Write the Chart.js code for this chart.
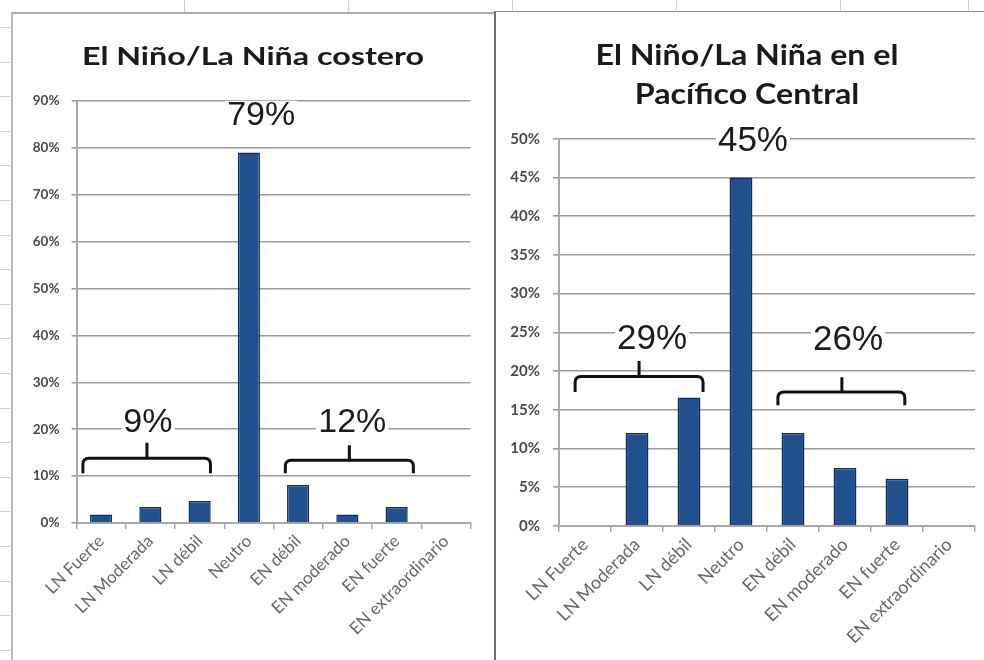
<!DOCTYPE html>
<html>
<head>
<meta charset="utf-8">
<title>El Niño / La Niña</title>
<script src="https://cdn.jsdelivr.net/npm/chart.js@4.4.0/dist/chart.umd.min.js"></script>
<style>
  body { margin: 0; width: 984px; height: 660px; background: #fff; position: relative; overflow: hidden; }
  .rule { position: absolute; background: #cfcfcf; }
  .card { position: absolute; background: #fff; }
  #cardLeft { left: 11px; top: 12px; width: 483px; height: 648px; border-top: 2px solid #ababab; border-left: 2px solid #b8b8b8; }
  #cardRight { left: 494px; top: 11px; width: 490px; height: 649px; border-top: 1px solid #8c8c8c; border-left: 2px solid #6e6e6e; }
  .card canvas { position: absolute; left: 0; top: 0; }
</style>
</head>
<body>
<div id="cardLeft" class="card"><canvas id="chartCostero" width="481" height="646"></canvas></div>
<div id="cardRight" class="card"><canvas id="chartCentral" width="488" height="648"></canvas></div>
<script>
const categories = ["LN Fuerte", "LN Moderada", "LN débil", "Neutro", "EN débil", "EN moderado", "EN fuerte", "EN extraordinario"];
const costeroValues = [1.8, 3.4, 4.7, 79, 8.1, 1.8, 3.4, 0];
const centralValues = [0, 12, 16.6, 45, 12, 7.5, 6.1, 0];
const costeroTicks = [0, 10, 20, 30, 40, 50, 60, 70, 80, 90];
const centralTicks = [0, 5, 10, 15, 20, 25, 30, 35, 40, 45, 50];

// group totals shown above the braces: [text, centre index, centre value]
const costeroNotes = [["79%", 3.25, 87], ["9%", 0.95, 21.6], ["12%", 5.1, 21.6]];
const centralNotes = [["45%", 3.23, 49.8], ["29%", 1.29, 24.2], ["26%", 5.06, 24.1]];
// braces: [from index, to index, tip index, line value, end value, tip value]
const costeroBraces = [[-0.37, 2.22, 0.93, 13.8, 10.6, 17.1], [3.74, 6.34, 5.04, 13.4, 10.6, 16.6]];
const centralBraces = [[-0.19, 2.27, 1.04, 19.3, 17.3, 21.3], [3.71, 6.15, 4.94, 17.3, 15.6, 19.2]];

// spreadsheet cells peeking out around the two charts
[184, 348, 512, 676, 840, 968].forEach(x => {
  const d = document.createElement("div");
  d.className = "rule";
  d.style.cssText = `left:${x}px;top:0;width:1px;height:12px;`;
  document.body.appendChild(d);
});
for (let y = 27; y < 660; y += 34.6) {
  const d = document.createElement("div");
  d.className = "rule";
  d.style.cssText = `left:0;top:${Math.round(y)}px;width:10px;height:1px;`;
  document.body.appendChild(d);
}

// heading drawn a little wide, like the pasted spreadsheet chart
const chartHeading = {
  id: "chartHeading",
  afterDraw(chart, args, opts) {
    const { ctx } = chart;
    ctx.save();
    ctx.font = `bold ${opts.size}px Lato, sans-serif`;
    ctx.fillStyle = "#1a1a1a";
    ctx.textAlign = "center";
    ctx.textBaseline = "alphabetic";
    opts.lines.forEach((line, i) => {
      ctx.save();
      ctx.translate(opts.x, opts.baseline + i * opts.gap);
      ctx.scale(opts.stretch, 1);
      ctx.fillText(line, 0, 0);
      ctx.restore();
    });
    ctx.restore();
  }
};

const braceNotes = {
  id: "braceNotes",
  afterDatasetsDraw(chart, args, opts) {
    const { ctx } = chart;
    const x = chart.scales.x, y = chart.scales.y;
    ctx.save();
    ctx.strokeStyle = "#111";
    ctx.lineWidth = 3;
    ctx.lineJoin = "round";
    opts.braces.forEach(([a, b, m, line, end, tip]) => {
      const x1 = x.getPixelForValue(a), x2 = x.getPixelForValue(b), xm = x.getPixelForValue(m);
      const yl = y.getPixelForValue(line), ye = y.getPixelForValue(end), yt = y.getPixelForValue(tip);
      const r = Math.min(6, ye - yl);
      ctx.beginPath();
      ctx.moveTo(x1, ye);
      ctx.lineTo(x1, yl + r);
      ctx.quadraticCurveTo(x1, yl, x1 + r, yl);
      ctx.lineTo(x2 - r, yl);
      ctx.quadraticCurveTo(x2, yl, x2, yl + r);
      ctx.lineTo(x2, ye);
      ctx.moveTo(xm, yl);
      ctx.lineTo(xm, yt);
      ctx.stroke();
    });
    ctx.font = `${opts.size}px "Liberation Sans", Arial, sans-serif`;
    ctx.textAlign = "center";
    ctx.textBaseline = "middle";
    opts.notes.forEach(([text, i, v]) => {
      const px = x.getPixelForValue(i), py = y.getPixelForValue(v);
      const w = ctx.measureText(text).width;
      ctx.fillStyle = "#fff";
      ctx.fillRect(px - w / 2 - 2, py - opts.size * 0.42, w + 4, opts.size * 0.84);
      ctx.fillStyle = "#1c1c1c";
      ctx.fillText(text, px, py + 1);
    });
    ctx.restore();
  }
};

function makeChart(id, cfg) {
  return new Chart(document.getElementById(id), {
    type: "bar",
    data: {
      labels: categories,
      datasets: [{
        data: cfg.values,
        backgroundColor: "#21508f",
        borderColor: "#122d55",
        borderWidth: 1.5,
        barPercentage: cfg.barPct,
        categoryPercentage: 1
      }]
    },
    plugins: [braceNotes, chartHeading],
    options: {
      responsive: false,
      animation: false,
      layout: { padding: { left: 0, right: cfg.padRight, top: cfg.padTop, bottom: 0 } },
      plugins: {
        legend: { display: false },
        tooltip: { enabled: false },
        title: { display: false },
        chartHeading: cfg.heading,
        braceNotes: { notes: cfg.notes, braces: cfg.braces, size: cfg.noteSize }
      },
      scales: {
        x: {
          afterFit: s => { s.height = cfg.xHeight; },
          grid: { drawOnChartArea: false, drawTicks: true, tickLength: 6, color: "#a8a8a8", lineWidth: 1.5 },
          border: { color: "#a8a8a8", width: 2 },
          ticks: {
            minRotation: 45, maxRotation: 45, autoSkip: false, padding: 2,
            color: "#686868",
            font: { family: "Lato", size: cfg.xFont }
          }
        },
        y: {
          min: 0,
          max: cfg.ticks[cfg.ticks.length - 1],
          afterFit: s => { s.width = cfg.yWidth; },
          afterBuildTicks: s => { s.ticks = cfg.ticks.map(v => ({ value: v })); },
          grid: { color: "#9c9c9c", lineWidth: 1.6, tickLength: cfg.tickLen, tickColor: "#9c9c9c" },
          border: { color: "#a8a8a8", width: 2 },
          ticks: {
            padding: cfg.yPad,
            color: "#4a4a4a",
            font: { family: "Lato", size: cfg.yFont, weight: "bold" },
            callback: v => v + "%"
          }
        }
      }
    }
  });
}

makeChart("chartCostero", {
  values: costeroValues,
  ticks: costeroTicks,
  heading: { lines: ["El Niño/La Niña costero"], size: 25, x: 240, baseline: 51, gap: 0, stretch: 1.29 },
  padTop: 87, padRight: 23.5, yWidth: 63.5, xHeight: 137,
  tickLen: 5, yPad: 12,
  barPct: 0.45, xFont: 17, yFont: 13.5, noteSize: 34,
  notes: costeroNotes, braces: costeroBraces
});

makeChart("chartCentral", {
  values: centralValues,
  ticks: centralTicks,
  heading: { lines: ["El Niño/La Niña en el", "Pacífico Central"], size: 28, x: 251, baseline: 53, gap: 39, stretch: 1.15 },
  padTop: 126.7, padRight: 9, yWidth: 63, xHeight: 134,
  tickLen: 6, yPad: 13,
  barPct: 0.44, xFont: 18, yFont: 15, noteSize: 35,
  notes: centralNotes, braces: centralBraces
});
</script>
</body>
</html>
